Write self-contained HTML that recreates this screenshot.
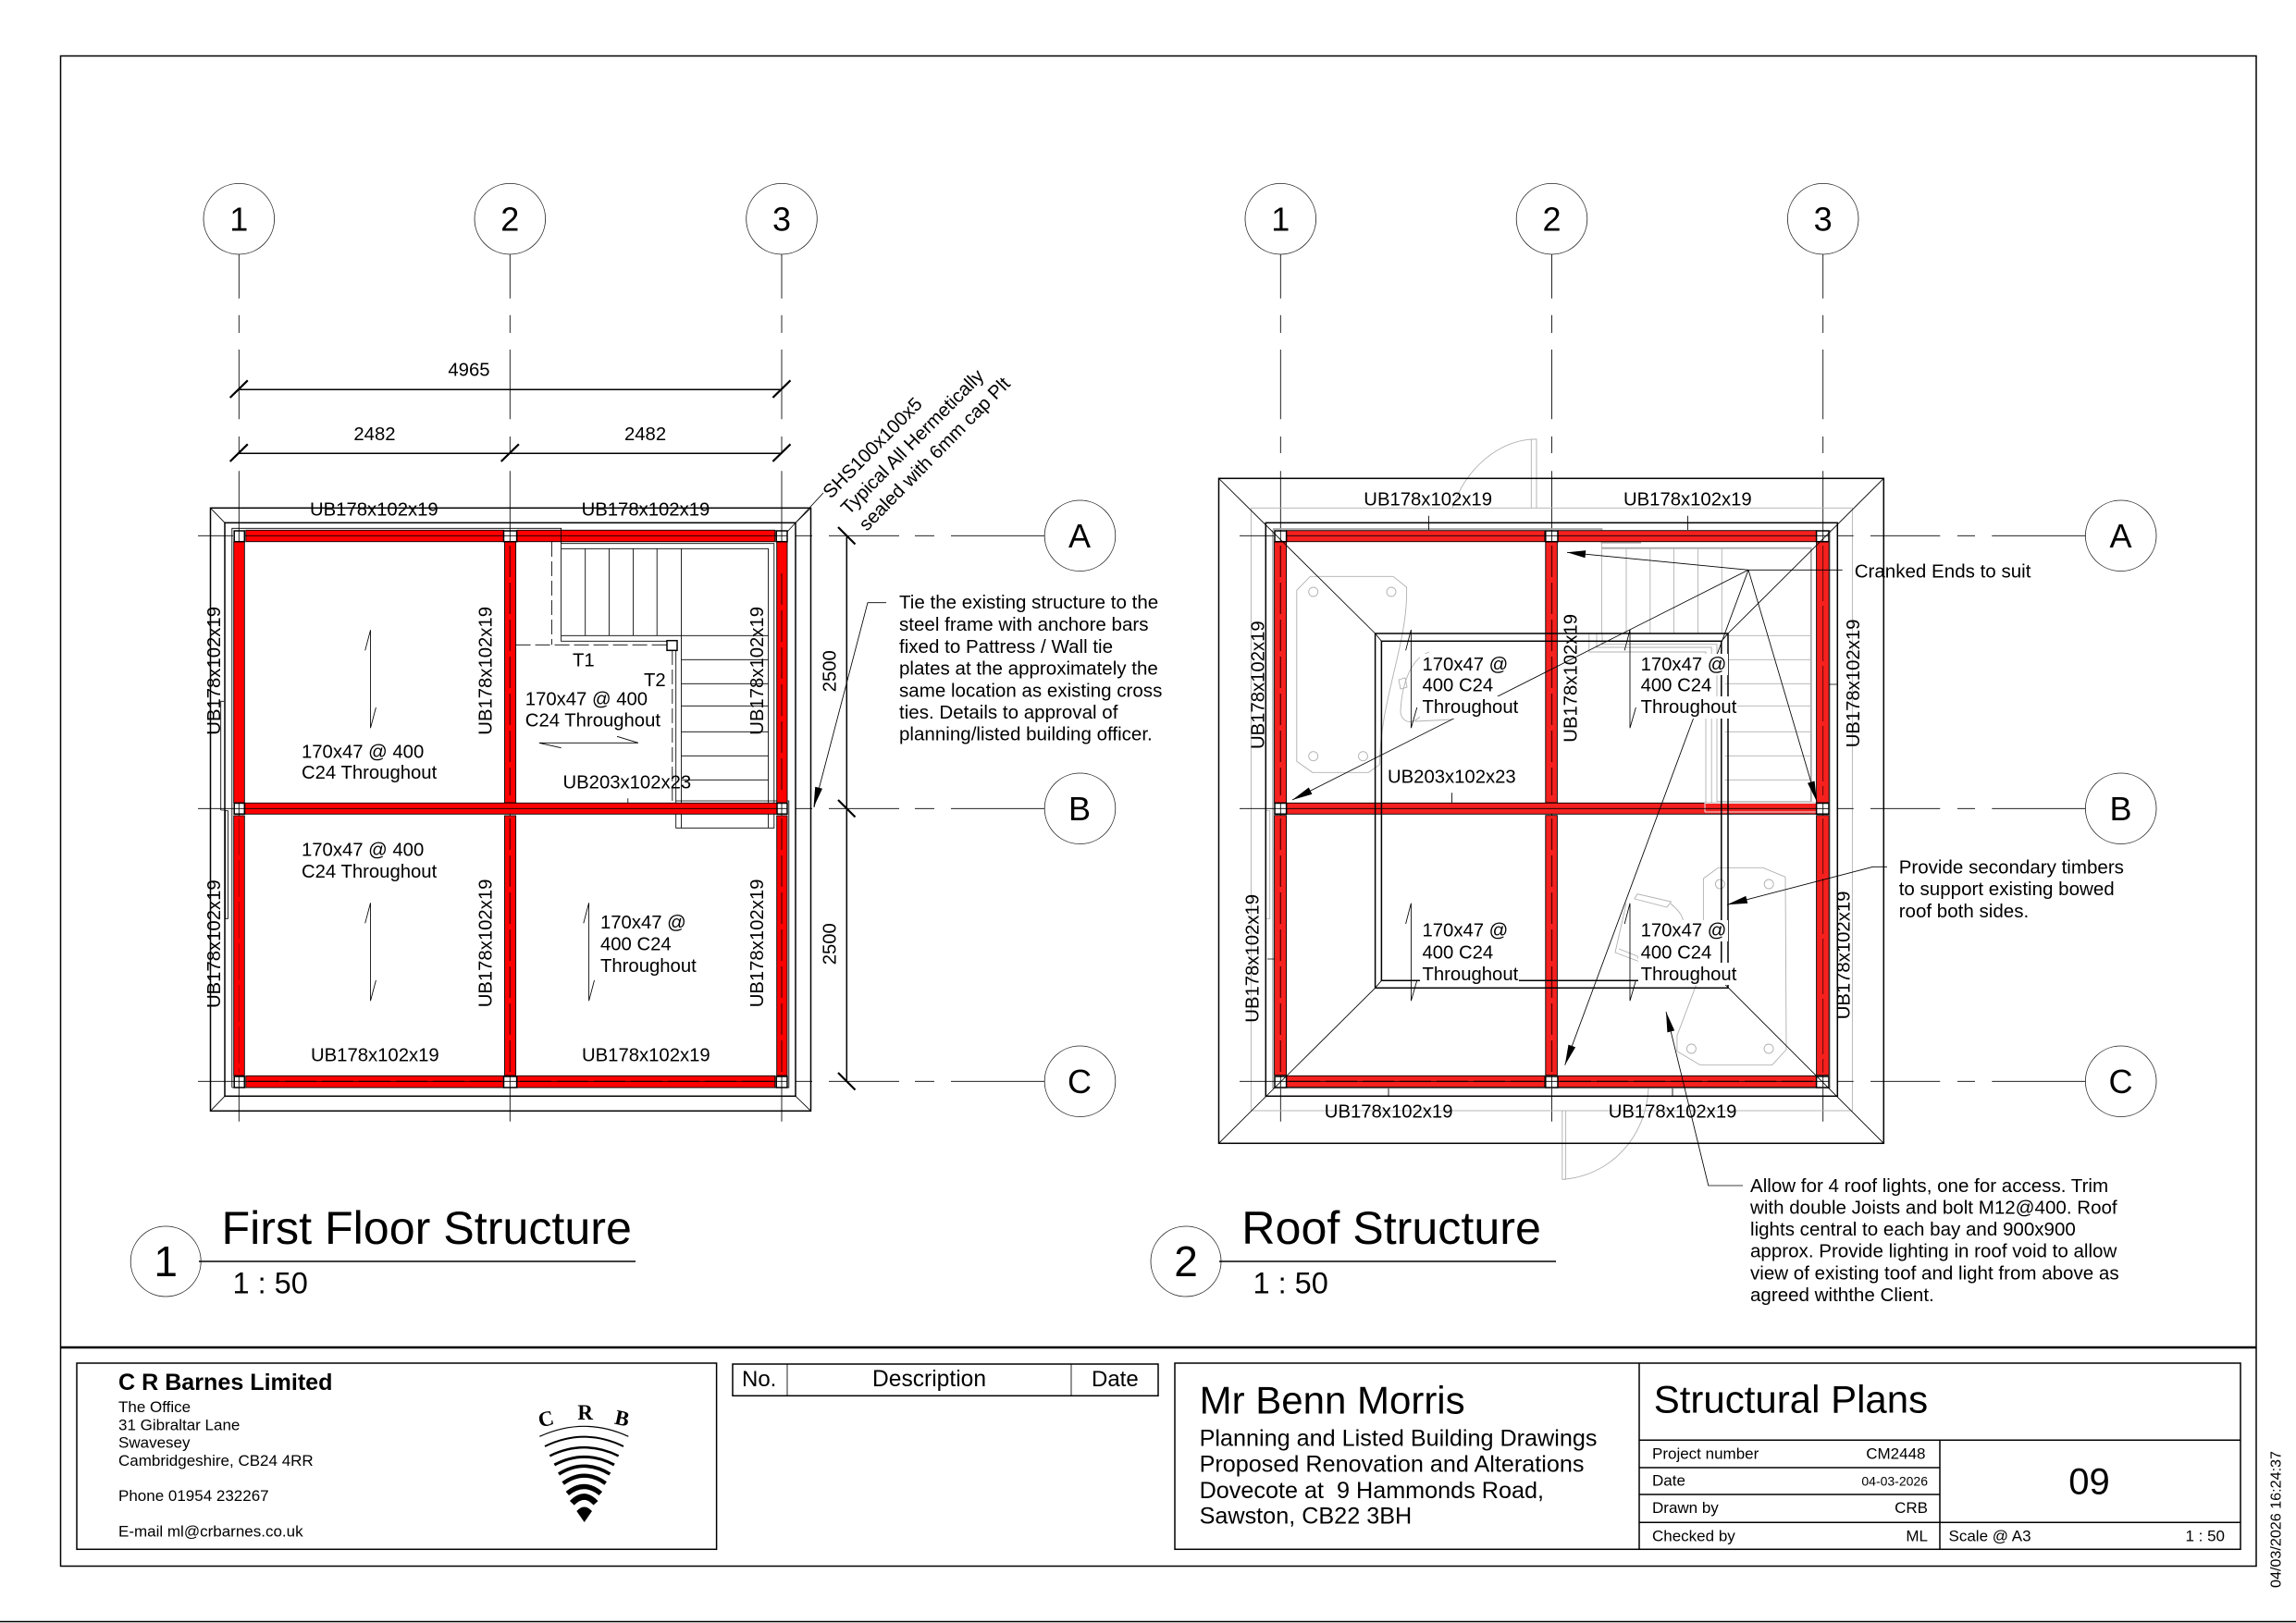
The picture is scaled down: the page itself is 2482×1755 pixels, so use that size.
<!DOCTYPE html>
<html><head><meta charset="utf-8"><title>Structural Plans</title>
<style>
html,body{margin:0;padding:0;background:#fff}
svg{display:block}
text{font-family:"Liberation Sans",sans-serif;fill:#000}
.l{fill:none;stroke:#000;stroke-width:1.5}
.t{fill:none;stroke:#000;stroke-width:.85}
.g{fill:none;stroke:#b0b0b0;stroke-width:.9}
.gg{fill:none;stroke:#a8a8a8;stroke-width:1.8}
.f{font-size:20.3px}
.nt{font-size:20.55px}
.rf{fill:#f00;stroke:#000;stroke-width:.9}
.rr{fill:#f4211f;stroke:#000;stroke-width:.9}
.c{fill:#fff;stroke:#000;stroke-width:1.5}
.d{fill:none;stroke:#5a0000;stroke-width:1.3;stroke-dasharray:34 6}
.e{fill:none;stroke:#a00000;stroke-width:.9;stroke-dasharray:40 5}
.k{fill:none;stroke:#400000;stroke-width:.8;stroke-dasharray:60 5}
.n{font-size:36px;text-anchor:middle}
.s{font-size:17px}
.o{fill:#fff;stroke:#222;stroke-width:.8}
</style></head><body>
<svg xmlns="http://www.w3.org/2000/svg" width="2482" height="1755" viewBox="0 0 2482 1755">
<rect width="2482" height="1755" fill="#fff"/>
<!-- sheet -->
<path class="l" d="M2482 1753.5H0"/>
<rect x="65.5" y="60.5" width="2373.5" height="1633" class="l"/>
<path d="M65 1457H2439" fill="none" stroke="#000" stroke-width="2.4"/>
<text transform="translate(2465.5 1717) rotate(-90)" font-size="16" textLength="148" lengthAdjust="spacingAndGlyphs">04/03/2026 16:24:37</text>

<!-- ============ LEFT PLAN ============ -->
<!-- grid verticals under beams -->
<path class="t" d="M258.3 275V322.7M258.3 340.7V360M258.3 378V453.3M258.3 472V490M258.3 509.3V1212.7M551.3 275V322.7M551.3 340.7V360M551.3 378V453.3M551.3 472V490M551.3 509.3V1212.7M845 275V322.7M845 340.7V360M845 378V453.3M845 472V490M845 509.3V1212.7"/>
<!-- walls -->
<rect x="227.5" y="549.3" width="649" height="652" class="l"/>
<rect x="243" y="565.3" width="617" height="620" class="l"/>
<path class="t" d="M227.5 549.3L243 565.3M876.5 549.3L860 565.3M227.5 1201.3L243 1185.3M876.5 1201.3L860 1185.3"/>
<path class="t" d="M250.8 1176V571.3H606.6V693.3H720.5M250.8 1176H852.8V866H730.7V895.3H836.8V587.7H606.6M606.6 593.3H830.5V895.3M606.6 687.3H830.5"/>
<path class="t" d="M632.7 593.3V687.3M658.4 593.3V687.3M684.6 593.3V687.3M710.2 593.3V687.3M736.5 593.3V895.3M736.5 713.3H830.5M736.5 739.3H830.5M736.5 763.3H830.5M736.5 791.3H830.5M736.5 817.3H830.5M736.5 843.3H830.5M730.7 703V866"/>
<path class="t" d="M238.7 876V758.3H242M238.7 876H243M243.5 876.7V993.3H246.4V876.7Z"/>
<path class="t" d="M557.6 697.3H721M596.4 586V697.3M726.8 703V868" stroke-dasharray="16 5"/>
<!-- beams -->
<rect x="252.7" y="586" width="11.6" height="282" class="rf"/><rect x="252.7" y="882" width="11.6" height="281" class="rf"/>
<rect x="545.5" y="586" width="12.1" height="282" class="rf"/><rect x="545.5" y="882" width="12.1" height="281" class="rf"/>
<rect x="839.7" y="586" width="11.3" height="282" class="rf"/><rect x="839.7" y="882" width="11.3" height="281" class="rf"/>
<rect x="265.8" y="573.3" width="278.7" height="12.4" class="rf"/><rect x="559" y="573.3" width="278.8" height="12.4" class="rf"/>
<rect x="264.8" y="868.3" width="575.2" height="12" class="rf"/>
<rect x="265.8" y="1163.3" width="278.7" height="12.7" class="rf"/><rect x="559" y="1163.3" width="278.8" height="12.7" class="rf"/>
<path class="e" d="M258.3 885V1160"/>
<path class="d" d="M551.3 590V860M551.3 885V1160M845 620V860M845 885V1160M268 1169.3H542M562 1169.3H836"/>
<path class="t" d="M606.6 571.3V587.7"/>
<!-- columns -->
<rect x="253.2" y="574" width="11.1" height="11.7" class="c"/><rect x="544.5" y="574" width="14.1" height="11.7" class="c"/><rect x="839.2" y="574" width="11.8" height="11.7" class="c"/>
<rect x="253.2" y="868.5" width="11.1" height="11.7" class="c"/><rect x="840" y="868.5" width="11" height="11.7" class="c"/>
<rect x="253.2" y="1164" width="11.1" height="12" class="c"/><rect x="544.5" y="1164" width="14.1" height="12" class="c"/><rect x="839.2" y="1164" width="11.8" height="12" class="c"/>
<rect x="721" y="692.7" width="11" height="10.6" fill="#fff" stroke="#000" stroke-width="1.5"/>
<path class="t" d="M258.3 574V586M258.3 868V881M258.3 1164V1176M551.3 574V586M551.3 1164V1176M845 574V586M845 868V881M845 1164V1176"/>
<!-- grid horizontals -->
<path class="t" d="M214 579.3H252M265 579.3H851M860 579.3H878M896 579.3H972M989 579.3H1010M1028 579.3H1129M214 874.3H851M860 874.3H878M896 874.3H972M989 874.3H1010M1028 874.3H1129M214 1169.3H851M860 1169.3H878M896 1169.3H972M989 1169.3H1010M1028 1169.3H1129"/>
<g class="o">
<circle cx="258.3" cy="236.7" r="38.3"/><circle cx="551.3" cy="236.7" r="38.3"/><circle cx="845" cy="236.7" r="38.3"/>
<circle cx="1167.5" cy="579.3" r="38.3"/><circle cx="1167.5" cy="874.3" r="38.3"/><circle cx="1167.5" cy="1169.3" r="38.3"/>
</g>
<text class="n" x="258.3" y="249.5">1</text><text class="n" x="551.3" y="249.5">2</text><text class="n" x="845" y="249.5">3</text>
<text class="n" x="1167" y="592">A</text><text class="n" x="1167" y="887">B</text><text class="n" x="1167" y="1182">C</text>
<!-- dims -->
<path class="l" d="M258.3 421.3H845M258.3 490.3H845M915.3 579.3V1169.3"/>
<path fill="none" stroke="#000" stroke-width="2.2" d="M248.7 430L267.8 411.3M835.4 430L854.5 411.3M248.7 499L267.8 480.3M541.7 499L560.9 480.3M835.4 499L854.5 480.3M906 570L924.5 588.5M906 865L924.5 883.5M906 1160L924.5 1178.5"/>
<g class="f">
<text x="484.4" y="406.7">4965</text><text x="382.4" y="476">2482</text><text x="675" y="476">2482</text>
<text transform="translate(903.7 748.3) rotate(-90)">2500</text><text transform="translate(903.7 1043.3) rotate(-90)">2500</text>
<text x="335" y="557.7">UB178x102x19</text><text x="628.6" y="557.7">UB178x102x19</text>
<text x="336" y="1147.7">UB178x102x19</text><text x="629" y="1147.7">UB178x102x19</text>
<text x="608.5" y="852.3">UB203x102x23</text>
<text transform="translate(238 794.7) rotate(-90)">UB178x102x19</text><text transform="translate(238 1090) rotate(-90)">UB178x102x19</text>
<text transform="translate(531.4 794.7) rotate(-90)">UB178x102x19</text><text transform="translate(531.4 1089.3) rotate(-90)">UB178x102x19</text>
<text transform="translate(825 794.7) rotate(-90)">UB178x102x19</text><text transform="translate(825 1089.3) rotate(-90)">UB178x102x19</text>
<text x="326" y="819.3">170x47 @ 400</text><text x="326" y="842">C24 Throughout</text>
<text x="326" y="925.3">170x47 @ 400</text><text x="326" y="949">C24 Throughout</text>
<text x="649" y="1004">170x47 @</text><text x="649" y="1027.7">400 C24</text><text x="649" y="1051">Throughout</text>
<text x="567.8" y="762.3">170x47 @ 400</text><text x="567.8" y="785.3">C24 Throughout</text>
<text x="619" y="720.7">T1</text><text x="696" y="742">T2</text>
</g>
<g class="nt">
<text transform="translate(898 540) rotate(-45.5)">SHS100x100x5</text>
<text transform="translate(917.5 557.5) rotate(-45.5)">Typical All Hermetically</text>
<text transform="translate(937 575) rotate(-45.5)">sealed with 6mm cap Plt</text>
<text x="972" y="658">Tie the existing structure to the</text>
<text x="972" y="682">steel frame with anchore bars</text>
<text x="972" y="706">fixed to Pattress / Wall tie</text>
<text x="972" y="729.5">plates at the approximately the</text>
<text x="972" y="753.5">same location as existing cross</text>
<text x="972" y="777">ties. Details to approval of</text>
<text x="972" y="800.5">planning/listed building officer.</text>
</g>
<path class="t" d="M400.5 681.3V787.3M400.5 681.3L394.7 703.3M400.5 787.3L406.4 765M400.5 976.3V1082.3M400.5 976.3L394.7 998.3M400.5 1082.3L406.4 1060M636.6 976.3V1082.3M636.6 976.3L630.8 998.3M636.6 1082.3L642.5 1060M582.8 803.3H690M582.8 803.3L606.6 808.7M690 803.3L667 796.3M678.8 863.3V868M890 533L851 575M958 651.7H938L880 873"/>
<polygon points="879.5,873 889,852.7 881.2,850.7"/>

<!-- ============ RIGHT PLAN ============ -->
<path class="t" d="M1384.3 275V322.7M1384.3 340.7V360M1384.3 378V453.3M1384.3 472V490M1384.3 509.3V1212.7M1677.5 275V322.7M1677.5 340.7V360M1677.5 378V453.3M1677.5 472V490M1677.5 509.3V1212.7M1970.7 275V322.7M1970.7 340.7V360M1970.7 378V453.3M1970.7 472V490M1970.7 509.3V1212.7"/>
<!-- grey underlay -->
<rect x="1352.4" y="549.3" width="650" height="651.7" class="g"/>
<path class="g" d="M1655.3 549.3V475H1661V549.3M1655.3 475C1620 478 1585 505 1570 549.3M1688.8 1201V1275.3H1692.6V1201M1689 1275.3C1740 1272 1780 1230 1782 1176"/>
<path class="gg" d="M1376 572H1731.4V586.7H1774M1731.4 592.7H1957.8V866.7"/>
<path class="g" d="M1731.4 586.7V685M1758 592.7V685M1783.8 592.7V685M1809.4 592.7V685M1835.6 592.7V685M1861.3 592.7V685M1864.7 687.3H1957.8M1864.7 713.3H1957.8M1864.7 739.3H1957.8M1864.7 763.3H1957.8M1864.7 791.3H1957.8M1864.7 817.3H1957.8M1864.7 843.3H1957.8M1717.8 685V705H1844V868M1726 685V700H1850.2V868M1732 685V696.7H1856V866.7H1957.8"/>
<path class="g" d="M1416.3 623.3H1506L1520.6 635V643C1520 700 1491.5 760 1491.5 826.7L1479.4 835.3H1418.8L1401.8 823.3V638.3Z"/>
<ellipse class="g" cx="1419.7" cy="640" rx="5" ry="5"/><ellipse class="g" cx="1504" cy="640" rx="5" ry="5"/><ellipse class="g" cx="1419.7" cy="817.7" rx="5" ry="5"/><ellipse class="g" cx="1473.5" cy="817.7" rx="5" ry="5"/>
<path class="g" d="M1545 705C1525 712 1515 740 1514 770C1515 780 1525 785 1535 775M1530 780L1570 778M1512 735l7 -2 2 10 -7 2Z"/>
<path class="g" d="M1857.4 938.3H1906L1930 948.3L1931 1135L1915.6 1151.7H1838L1812.9 1136.7V1120L1833 1066.7L1841.4 996.7V950Z"/>
<ellipse class="g" cx="1859.4" cy="956" rx="5" ry="5"/><ellipse class="g" cx="1912.2" cy="956" rx="5" ry="5"/><ellipse class="g" cx="1828.4" cy="1134" rx="5" ry="5"/><ellipse class="g" cx="1912" cy="1134" rx="5" ry="5"/>
<path class="g" d="M1770 966.7L1806.5 975L1802 981L1767 972ZM1806 977C1815 985 1819 990 1819.6 996.7M1758 976.7L1746 1030L1772.6 1040L1770 1034L1750 1026M1368 876.7H1372.7V993.3H1368Z"/>
<!-- beams -->
<rect x="1377.6" y="586" width="13" height="282" class="rr"/><rect x="1377.6" y="881.7" width="13" height="281" class="rr"/>
<rect x="1670.8" y="586" width="12.6" height="282" class="rr"/><rect x="1670.8" y="881.7" width="12.6" height="281" class="rr"/>
<rect x="1963.6" y="586" width="13.6" height="282" class="rr"/><rect x="1963.6" y="881.7" width="13.6" height="281" class="rr"/>
<rect x="1390.6" y="573.7" width="279.3" height="12" class="rr"/><rect x="1684" y="573.7" width="279.6" height="12" class="rr"/>
<rect x="1390.6" y="868.3" width="573" height="12" class="rr"/>
<rect x="1390.6" y="1163.3" width="279.3" height="12.4" class="rr"/><rect x="1684" y="1163.3" width="279.6" height="12.4" class="rr"/>
<path class="d" d="M1384.3 590V860M1384.3 885V1160M1677.5 590V860M1677.5 885V1160M1393 1169.3H1668M1686 1169.3H1962"/>
<path class="k" d="M1970.7 590V860M1970.7 885V1160"/>
<path fill="none" stroke="#e8e8e8" stroke-width="1" d="M1843 878V868.5H1963M1843 878H1963"/>
<!-- columns -->
<rect x="1378" y="574" width="12.6" height="11.7" class="c"/><rect x="1670.8" y="574" width="13.2" height="11.7" class="c"/><rect x="1963.6" y="574" width="13.4" height="11.7" class="c"/>
<rect x="1378" y="868.5" width="12.6" height="11.7" class="c"/><rect x="1963.6" y="868.5" width="13.4" height="11.7" class="c"/>
<rect x="1378" y="1164" width="12.6" height="12" class="c"/><rect x="1670.8" y="1164" width="13.2" height="12" class="c"/><rect x="1963.6" y="1164" width="13.4" height="12" class="c"/>
<path class="t" d="M1384.3 574V586M1384.3 868V881M1384.3 1164V1176M1677.5 574V586M1677.5 1164V1176M1970.7 574V586M1970.7 868V881M1970.7 1164V1176"/>
<!-- roof outlines -->
<rect x="1317.5" y="517.3" width="718.8" height="719" class="l"/>
<rect x="1368.3" y="565.3" width="618" height="620" class="l"/>
<path fill="none" stroke="#555" stroke-width=".8" d="M1376 573V1176.7H1978V573"/>
<rect x="1486.6" y="685" width="381.4" height="383.3" class="l"/>
<rect x="1493.4" y="693.3" width="367.4" height="367" class="l"/>
<path class="t" d="M1317.5 517.3L1486.6 685L1493.4 693.3M2036.3 517.3L1868 685L1860.8 693.3M1317.5 1236.3L1486.6 1068.3L1493.4 1060.3M2036.3 1236.3L1868.6 1068.3L1860.8 1060.3"/>
<path class="t" d="M1544.5 557.7V573M1824.4 557.7V573M1569.5 857.3V868M1501 1176.7V1185M1808 1176.7V1185M1977 740H1987M1370 1037H1377.6"/>
<!-- grid horizontals -->
<path class="t" d="M1340 579.3H1377M1391 579.3H1977M1985.7 579.3H2003.7M2022 579.3H2097.3M2116 579.3H2135M2153.3 579.3H2254.4M1340 874.3H1977M1985.7 874.3H2003.7M2022 874.3H2097.3M2116 874.3H2135M2153.3 874.3H2254.4M1340 1169.3H1977M1985.7 1169.3H2003.7M2022 1169.3H2097.3M2116 1169.3H2135M2153.3 1169.3H2254.4"/>
<g class="o">
<circle cx="1384.3" cy="236.7" r="38.3"/><circle cx="1677.5" cy="236.7" r="38.3"/><circle cx="1970.7" cy="236.7" r="38.3"/>
<circle cx="2292.7" cy="579.3" r="38.3"/><circle cx="2292.7" cy="874.3" r="38.3"/><circle cx="2292.7" cy="1169.3" r="38.3"/>
</g>
<text class="n" x="1384.3" y="249.5">1</text><text class="n" x="1677.5" y="249.5">2</text><text class="n" x="1970.7" y="249.5">3</text>
<text class="n" x="2292.5" y="592">A</text><text class="n" x="2292.5" y="887">B</text><text class="n" x="2292.5" y="1182">C</text>
<!-- leaders -->
<path class="t" d="M1991.7 616.3H1890L1694 597.3M1890 616.3L1397 865M1890 616.3L1964 866.7M1890 616.3L1691.7 1151.7M2040 937.3H2024.7L1867 978.3M1884 1282H1846.8L1801 1094"/>
<polygon points="1694,597.3 1713.5,603.2 1714.3,595.2"/>
<polygon points="1397,865 1418.4,858.7 1414.8,851.5"/>
<polygon points="1964,866.7 1961.6,844.5 1954,846.7"/>
<polygon points="1691.7,1151.7 1703.1,1132.4 1695.5,1129.6"/>
<polygon points="1867,978.3 1889.3,976.7 1887.3,968.9"/>
<polygon points="1801,1094 1810.2,1114.4 1802.4,1116.4"/>
<!-- label masks -->
<path fill="#fff" d="M1535 707h97v23h-97zM1535 730h82v23h-82zM1535 753h107v24h-107zM1771 707h97v23h-97zM1771 730h82v23h-82zM1771 753h107v24h-107zM1535 995h97v23h-97zM1535 1018h82v23h-82zM1535 1041h107v24h-107zM1771 995h97v23h-97zM1771 1018h82v23h-82zM1771 1041h107v24h-107z"/>
<path class="t" d="M1525.4 681V787.3M1525.4 681L1519.6 703.3M1525.4 787.3L1531.8 765M1762 681V787.3M1762 681L1756.2 703.3M1762 787.3L1768.4 765M1525.4 976.7V1082.3M1525.4 976.7L1519.6 999M1525.4 1082.3L1531.8 1060M1762 976.7V1082.3M1762 976.7L1756.2 999M1762 1082.3L1768.4 1060"/>
<g class="f">
<text x="1474.3" y="546.7">UB178x102x19</text><text x="1755" y="546.7">UB178x102x19</text>
<text x="1431.8" y="1208.3">UB178x102x19</text><text x="1738.7" y="1208.3">UB178x102x19</text>
<text x="1500" y="846.7">UB203x102x23</text>
<text transform="translate(1366.4 810) rotate(-90)">UB178x102x19</text><text transform="translate(1360.6 1105.7) rotate(-90)">UB178x102x19</text>
<text transform="translate(1704.7 802.7) rotate(-90)">UB178x102x19</text>
<text transform="translate(2010 808.3) rotate(-90)">UB178x102x19</text><text transform="translate(1999.5 1102.3) rotate(-90)">UB178x102x19</text>
<text x="1537.5" y="725">170x47 @</text><text x="1537.5" y="747.7">400 C24</text><text x="1537.5" y="771">Throughout</text>
<text x="1773.6" y="725">170x47 @</text><text x="1773.6" y="747.7">400 C24</text><text x="1773.6" y="771">Throughout</text>
<text x="1537.5" y="1012.7">170x47 @</text><text x="1537.5" y="1036.7">400 C24</text><text x="1537.5" y="1060">Throughout</text>
<text x="1773.6" y="1012.7">170x47 @</text><text x="1773.6" y="1036.7">400 C24</text><text x="1773.6" y="1060">Throughout</text>
</g>
<g class="nt">
<text x="2004.7" y="624.4">Cranked Ends to suit</text>
<text x="2052.7" y="944.7">Provide secondary timbers</text>
<text x="2052.7" y="968">to support existing bowed</text>
<text x="2052.7" y="991.8">roof both sides.</text>
<text x="1892" y="1289">Allow for 4 roof lights, one for access. Trim</text>
<text x="1892" y="1312.5">with double Joists and bolt M12@400. Roof</text>
<text x="1892" y="1336">lights central to each bay and 900x900</text>
<text x="1892" y="1359.5">approx. Provide lighting in roof void to allow</text>
<text x="1892" y="1383.5">view of existing toof and light from above as</text>
<text x="1892" y="1407">agreed withthe Client.</text>
</g>

<!-- view titles -->
<circle cx="179.2" cy="1364" r="38" class="o"/>
<circle cx="1282" cy="1364" r="38" class="o"/>
<text x="179.2" y="1380" font-size="46" text-anchor="middle">1</text>
<text x="1282" y="1380" font-size="46" text-anchor="middle">2</text>
<path class="l" d="M215 1364H687M1318 1364H1682"/>
<text x="239.5" y="1345" font-size="50.2">First Floor Structure</text>
<text x="1342.3" y="1345" font-size="50.2">Roof Structure</text>
<text x="251.5" y="1398.3" font-size="32.5">1 : 50</text>
<text x="1354.5" y="1398.3" font-size="32.5">1 : 50</text>

<!-- title block -->
<rect x="83" y="1474" width="691.6" height="201.3" class="l"/>
<rect x="792" y="1475" width="460" height="34.3" class="l"/>
<path class="t" d="M851 1475V1509.3M1158 1475V1509.3"/>
<rect x="1270" y="1474" width="1152" height="201.3" class="l"/>
<path class="l" d="M1772 1474V1675.3M1772 1557.3H2422M2097 1557.3V1675.3M1772 1587H2097M1772 1616H2097M1772 1646.3H2422"/>
<text x="128" y="1503" font-size="25.1" font-weight="bold">C R Barnes Limited</text>
<g class="s">
<text x="128" y="1527">The Office</text><text x="128" y="1546.7">31 Gibraltar Lane</text><text x="128" y="1565.7">Swavesey</text><text x="128" y="1585">Cambridgeshire, CB24 4RR</text>
<text x="128" y="1623">Phone 01954 232267</text><text x="128" y="1661.7">E-mail ml@crbarnes.co.uk</text>
</g>
<g transform="translate(560 1510) scale(.3333)">
<path fill="none" stroke="#000" stroke-width="3.5" d="M70 130Q215 64 358 130"/>
<g fill="none" stroke="#000">
<path stroke-width="6" d="M87 162Q215 100 342 162"/>
<path stroke-width="7.5" d="M103 193Q215 138 326 193"/>
<path stroke-width="9" d="M118 222Q215 170 312 222"/>
<path stroke-width="11" d="M132 252Q215 200 298 252"/>
<path stroke-width="13" d="M146 282Q215 232 284 282"/>
<path stroke-width="16" d="M160 315Q215 270 268 315"/>
<path stroke-width="20" d="M175 346Q215 305 252 346"/>
</g>
<path d="M190 372Q215 345 240 372L215 408Z"/>
</g>
<g font-size="23" font-weight="bold">
<text transform="translate(591.7 1541.7) rotate(-12)" text-anchor="middle" style="font-family:'Liberation Serif',serif">C</text>
<text x="632.7" y="1535" text-anchor="middle" style="font-family:'Liberation Serif',serif">R</text>
<text transform="translate(671 1541) rotate(12)" text-anchor="middle" style="font-family:'Liberation Serif',serif">B</text>
</g>
<text x="802" y="1499" font-size="24">No.</text><text x="943" y="1499" font-size="24.6">Description</text><text x="1180" y="1499" font-size="24">Date</text>
<text x="1296.6" y="1528.7" font-size="42">Mr Benn Morris</text>
<g font-size="25.2">
<text x="1296.6" y="1563.3">Planning and Listed Building Drawings</text>
<text x="1296.6" y="1591.7">Proposed Renovation and Alterations</text>
<text x="1296.6" y="1620">Dovecote at &#160;9 Hammonds Road,</text>
<text x="1296.6" y="1647.3">Sawston, CB22 3BH</text>
</g>
<text x="1787.7" y="1527.7" font-size="42">Structural Plans</text>
<g class="s">
<text x="1786" y="1577.7">Project number</text><text x="2081.5" y="1577.7" text-anchor="end">CM2448</text>
<text x="1786" y="1606.7">Date</text><text x="2084" y="1606.7" text-anchor="end" font-size="14">04-03-2026</text>
<text x="1786" y="1636">Drawn by</text><text x="2084" y="1636" text-anchor="end">CRB</text>
<text x="1786" y="1666.7">Checked by</text><text x="2084" y="1666.7" text-anchor="end">ML</text>
<text x="2106.5" y="1666.7">Scale @ A3</text><text x="2405" y="1666.7" text-anchor="end">1 : 50</text>
</g>
<text x="2258.5" y="1615.7" font-size="40" text-anchor="middle">09</text>
</svg>
</body></html>
